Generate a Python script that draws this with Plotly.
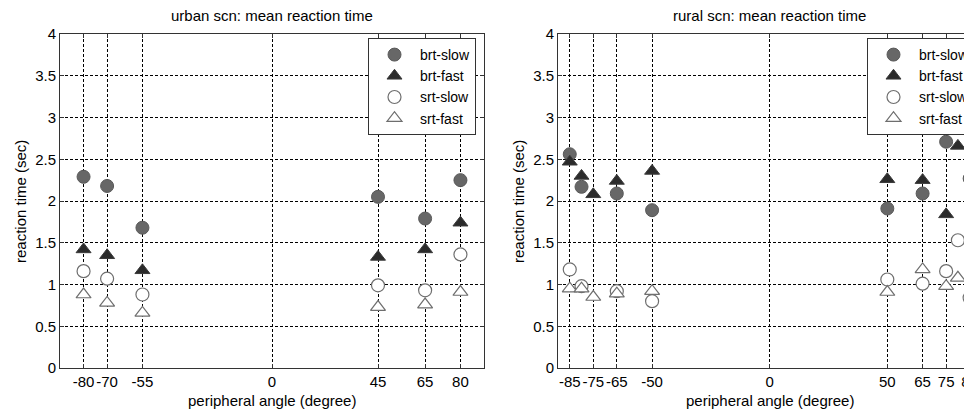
import plotly.graph_objects as go

# ---------------- data ----------------
series_names = ["brt-slow", "brt-fast", "srt-slow", "srt-fast"]

urban_x = [-80, -70, -55, 45, 65, 80]
urban_brt_slow = [2.29, 2.18, 1.68, 2.05, 1.79, 2.25]
urban_brt_fast = [1.42, 1.35, 1.17, 1.33, 1.42, 1.74]
urban_srt_slow = [1.16, 1.07, 0.88, 0.99, 0.93, 1.36]
urban_srt_fast = [0.88, 0.78, 0.66, 0.73, 0.76, 0.91]

rural_brt_slow_x = [-85, -80, -65, -50, 50, 65, 75, 85]
rural_brt_slow = [2.56, 2.17, 2.09, 1.89, 1.91, 2.09, 2.71, 2.27]
rural_brt_fast_x = [-85, -80, -75, -65, -50, 50, 65, 75, 80]
rural_brt_fast = [2.47, 2.30, 2.08, 2.24, 2.36, 2.26, 2.25, 1.84, 2.66]
rural_srt_slow_x = [-85, -80, -65, -50, 50, 65, 75, 80, 85]
rural_srt_slow = [1.18, 0.98, 0.92, 0.80, 1.06, 1.01, 1.16, 1.53, 0.84]
rural_srt_fast_x = [-85, -80, -75, -65, -50, 50, 65, 75, 80]
rural_srt_fast = [0.95, 0.95, 0.85, 0.89, 0.92, 0.91, 1.18, 0.98, 1.08]

urban_ticks = [-80, -70, -55, 0, 45, 65, 80]
urban_tick_text = ["-80", "-70", "-55", "0", "45", "65", "80"]
rural_ticks = [-85, -75, -65, -50, 0, 50, 65, 75, 85]
rural_tick_text = ["-85", "-75", "-65", "-50", "0", "50", "65", "75", "85"]
y_ticks = [0, 0.5, 1, 1.5, 2, 2.5, 3, 3.5, 4]
y_tick_text = ["0", "0.5", "1", "1.5", "2", "2.5", "3", "3.5", "4"]

titles = ["urban scn: mean reaction time", "rural scn: mean reaction time"]
x_title = "peripheral angle (degree)"
y_title = "reaction time (sec)"

# ---------------- styles ----------------
FONT = "Liberation Sans, Arial, Helvetica, sans-serif"
styles = {
    "brt-slow": dict(symbol="circle", size=13, color="#676767", line=dict(color="#595959", width=1)),
    "brt-fast": dict(symbol="triangle-up", size=13, color="#2b2b2b", line=dict(color="#3a3a3a", width=1)),
    "srt-slow": dict(symbol="circle", size=13, color="white", line=dict(color="#6e6e6e", width=1.2)),
    "srt-fast": dict(symbol="triangle-up", size=13, color="white", line=dict(color="#6e6e6e", width=1.2)),
}

fig = go.Figure()

urban_data = [(urban_x, urban_brt_slow), (urban_x, urban_brt_fast),
              (urban_x, urban_srt_slow), (urban_x, urban_srt_fast)]
rural_data = [(rural_brt_slow_x, rural_brt_slow), (rural_brt_fast_x, rural_brt_fast),
              (rural_srt_slow_x, rural_srt_slow), (rural_srt_fast_x, rural_srt_fast)]

for name, (xs, ys) in zip(series_names, urban_data):
    fig.add_trace(go.Scatter(x=xs, y=ys, mode="markers", name=name, marker=styles[name],
                             xaxis="x", yaxis="y", legend="legend", cliponaxis=False))
for name, (xs, ys) in zip(series_names, rural_data):
    fig.add_trace(go.Scatter(x=xs, y=ys, mode="markers", name=name, marker=styles[name],
                             xaxis="x2", yaxis="y2", legend="legend2", cliponaxis=True))

# page body has an 8px margin; figure covers window pixels 8..972 x 8..414
OFF = 8
W, H = 972 - OFF, 414 - OFF


def fx(px):
    return (px - OFF) / W


def fy(px):
    return 1 - (px - OFF) / H


L_left, L_right = 60, 484
R_left, R_right = 558, 972
top_px, bot_px = 34, 368
ydom = [fy(bot_px), fy(top_px)]

grid = dict(showgrid=True, gridcolor="black", gridwidth=1, griddash="3px,2px")
axis_common = dict(showline=True, linecolor="#333333", linewidth=1, ticks="inside",
                   ticklen=4, tickcolor="#333333", zeroline=False,
                   ticklabeloverflow="allow",
                   tickfont=dict(family=FONT, size=15, color="black"), **grid)

legend_common = dict(xref="container", yref="container", xanchor="left", yanchor="top",
                     bgcolor="white", bordercolor="#333333", borderwidth=1, itemwidth=41,
                     font=dict(family=FONT, size=14), tracegroupgap=0)

fig.update_layout(
    width=W, height=H,
    margin=dict(l=0, r=0, t=0, b=0, autoexpand=False),
    paper_bgcolor="white", plot_bgcolor="white",
    font=dict(family=FONT, size=15, color="black"),
    xaxis=dict(domain=[fx(L_left), fx(L_right)], range=[-90, 90], tickvals=urban_ticks,
               ticktext=urban_tick_text, mirror="ticks", anchor="y", tickangle=0, **axis_common),
    yaxis=dict(domain=ydom, range=[0, 4], tickvals=y_ticks, ticktext=y_tick_text,
               mirror="ticks", anchor="x", **axis_common),
    xaxis2=dict(domain=[fx(R_left), fx(R_right)], range=[-90, 86], tickvals=rural_ticks,
                ticktext=rural_tick_text, mirror="ticks", anchor="y2", tickangle=0, **axis_common),
    yaxis2=dict(domain=ydom, range=[0, 4], tickvals=y_ticks, ticktext=y_tick_text,
                mirror=False, anchor="x2", **axis_common),
    legend=dict(x=fx(368), y=fy(38), **legend_common),
    legend2=dict(x=fx(867), y=fy(38), **legend_common),
    showlegend=True,
)

# subplot titles
fig.add_annotation(text=titles[0], x=0, xref="x", y=fy(16), yref="paper",
                   showarrow=False, font=dict(family=FONT, size=15), yanchor="middle")
fig.add_annotation(text=titles[1], x=0, xref="x2", y=fy(16), yref="paper",
                   showarrow=False, font=dict(family=FONT, size=15), yanchor="middle")
# axis titles
for xr, ycx in (("x", 20), ("x2", 518)):
    fig.add_annotation(text=x_title, x=0, xref=xr, y=fy(400), yref="paper",
                       showarrow=False, font=dict(family=FONT, size=15), yanchor="middle")
    fig.add_annotation(text=y_title, x=fx(ycx), xref="paper", y=fy(202), yref="paper",
                       showarrow=False, font=dict(family=FONT, size=15), textangle=-90,
                       xanchor="center", yanchor="middle")

fig.write_html("out.html")
